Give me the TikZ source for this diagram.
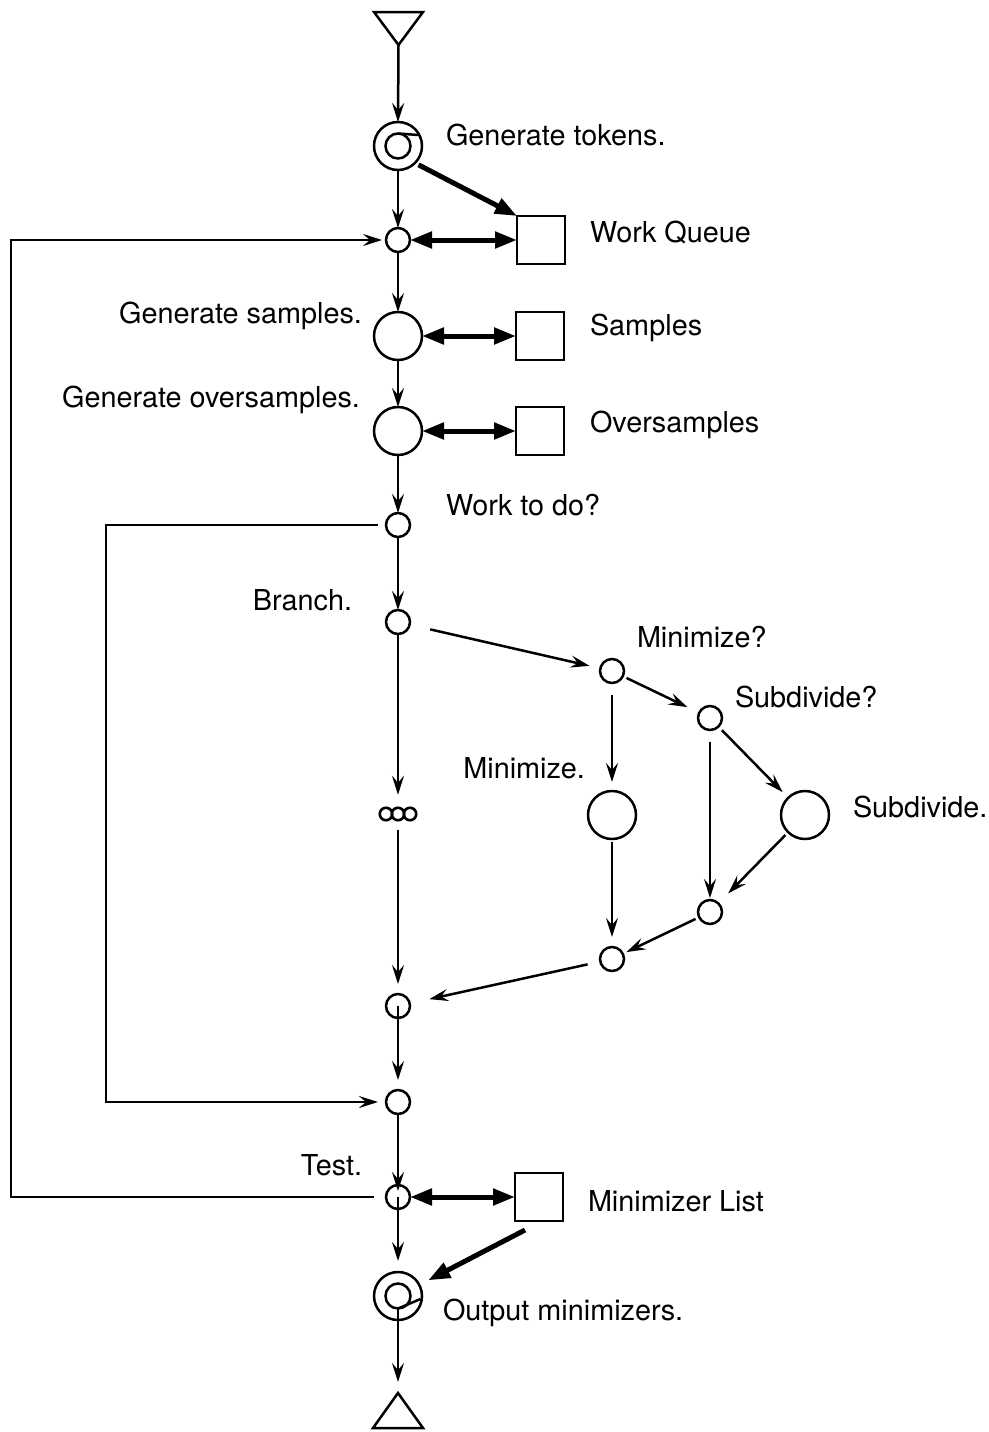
\documentclass[tikz,border=0pt]{standalone}
\usepackage{fontspec}
\setmainfont{TeX Gyre Heros}
\usetikzlibrary{arrows.meta}
\begin{document}
\begin{tikzpicture}[x=1pt,y=-1pt,
  every node/.style={inner sep=0pt, outer sep=0pt},
  line/.style={line width=2.5pt},
  flow/.style={line width=2.5pt, -{Stealth[length=19pt,width=12pt,inset=7pt]}},
  data/.style={line width=5pt, {Triangle[length=22pt,width=16pt]}-{Triangle[length=22pt,width=16pt]}},
  push/.style={line width=5pt, -{Triangle[length=22pt,width=16pt]}},
  junc/.style={circle, draw, line width=2.5pt, minimum size=24pt},
  proc/.style={circle, draw, line width=2.5pt, minimum size=48pt},
  dot/.style={circle, draw, line width=2.6pt, minimum size=12.5pt},
  store/.style={rectangle, draw, line width=2.5pt, minimum size=48pt},
  lbl/.style={font=\fontsize{28.8}{34}\selectfont}
]
\useasboundingbox (0,0) rectangle (988,1432);

% entry and exit markers
\draw[line] (374,12) -- (423,12) -- (398.5,45) -- cycle;
\coordinate (src) at (398.5,45);
\draw[line] (373,1428) -- (423,1428) -- (398,1393) -- cycle;
\coordinate (snk) at (398,1393);

% process and junction nodes
\node[proc] (gen) at (398,146) {};
\node[junc] (q) at (398,240) {};
\node[store] (wq) at (541,240) {};
\node[proc] (smp) at (398,336) {};
\node[store] (sb) at (540,336) {};
\node[proc] (ovs) at (398,431) {};
\node[store] (ob) at (540,431) {};
\node[junc] (todo) at (398,525) {};
\node[junc] (br) at (398,622) {};
\node[dot] (o1) at (386,814) {};
\node[dot] (o2) at (398,814) {};
\node[dot] (o3) at (410,814) {};
\node[junc] (mq) at (612,671) {};
\node[junc] (sq) at (710,718) {};
\node[proc] (mb) at (612,815) {};
\node[proc] (sd) at (805,815) {};
\node[junc] (jr) at (710,912) {};
\node[junc] (jm) at (612,959) {};
\node[junc] (j2) at (398,1006) {};
\node[junc] (j3) at (398,1102) {};
\node[junc] (test) at (398,1197) {};
\node[store] (ml) at (539,1197) {};
\node[proc] (out) at (398,1296) {};

% spiral marks inside the start and output nodes
\draw[line] (gen.center) circle[radius=12.5];
\draw[line] (398,133.5) -- (418.5,135);
\draw[line] (out.center) circle[radius=12.5];
\draw[line] (398,1308.5) -- (420.5,1299);

% main control flow
\draw[flow] (src) -- (gen.north);
\draw[flow] (gen.south) -- (q.north);
\draw[flow] (q.south) -- (smp.north);
\draw[flow] (smp.south) -- (ovs.north);
\draw[flow] (ovs.south) -- (todo.north);
\draw[flow] (todo.south) -- (br.north);
\draw[flow, shorten >=13pt] (br.south) -- (o2.north);
\draw[flow, shorten <=10pt, shorten >=10pt] (o2.south) -- (j2.north);
\draw[flow, shorten >=10pt] (j2.center) -- (j3.north);
\draw[flow, shorten >=6pt] (j3.south) -- (test.center);
\draw[flow, shorten >=11pt] (test.center) -- (out.north);
\draw[flow, shorten >=11pt] ([yshift=-12.5pt]out.center) -- (snk);

% branch body
\draw[flow, shorten <=21pt, shorten >=11pt] (br) -- (mq);
\draw[flow, shorten <=4pt, shorten >=13pt] (mq) -- (sq);
\draw[flow, shorten <=12pt, shorten >=9pt] (mq) -- (mb);
\draw[flow, shorten <=5pt, shorten >=8pt] (sq) -- (sd);
\draw[flow, shorten <=12pt, shorten >=2pt] (sq) -- (jr);
\draw[flow, shorten <=4pt, shorten >=14pt] (sd) -- (jr);
\draw[flow, shorten <=3pt, shorten >=10pt] (mb) -- (jm);
\draw[flow, shorten <=4pt, shorten >=4pt] (jr) -- (jm);
\draw[flow, shorten <=13pt, shorten >=20pt] (jm) -- (j2);

% loops back
\draw[flow, shorten <=8pt, shorten >=8pt] (todo.west) -- (106,525) |- (j3.west);
\draw[flow, shorten <=12pt, shorten >=4pt] (test.west) -- (11,1197) |- (q.west);

% data stores
\draw[push, shorten <=4pt] (gen.-45) -- (wq.north west);
\draw[data] (q.east) -- (wq.west);
\draw[data] (smp.east) -- (sb.west);
\draw[data] (ovs.east) -- (ob.west);
\draw[data] (test.east) -- (ml.west);
\draw[push, shorten >=10pt] ([shift={(10,9)}]ml.south west) -- (out);

% labels
\node[lbl, anchor=base west] (l1) at (446,145) {Generate tokens.};
\node[lbl, anchor=base west] (l2) at (590,242) {Work Queue};
\node[lbl, anchor=base east] (l3) at (362,323) {Generate samples.};
\node[lbl, anchor=base west] (l4) at (590,335) {Samples};
\node[lbl, anchor=base east] (l5) at (360,407) {Generate oversamples.};
\node[lbl, anchor=base west] (l6) at (590,432) {Oversamples};
\node[lbl, anchor=base west] (l7) at (446,515) {Work to do?};
\node[lbl, anchor=base east] (l8) at (352,610) {Branch.};
\node[lbl, anchor=base west] (l9) at (637,647) {Minimize?};
\node[lbl, anchor=base west] (l10) at (735,707) {Subdivide?};
\node[lbl, anchor=base east] (l11) at (585,778) {Minimize.};
\node[lbl, anchor=base west] (l12) at (853,817) {Subdivide.};
\node[lbl, anchor=base east] (l13) at (362,1175) {Test.};
\node[lbl, anchor=base west] (l14) at (588,1211) {Minimizer List};
\node[lbl, anchor=base west] (l15) at (443,1320) {Output minimizers.};
\end{tikzpicture}
\end{document}
